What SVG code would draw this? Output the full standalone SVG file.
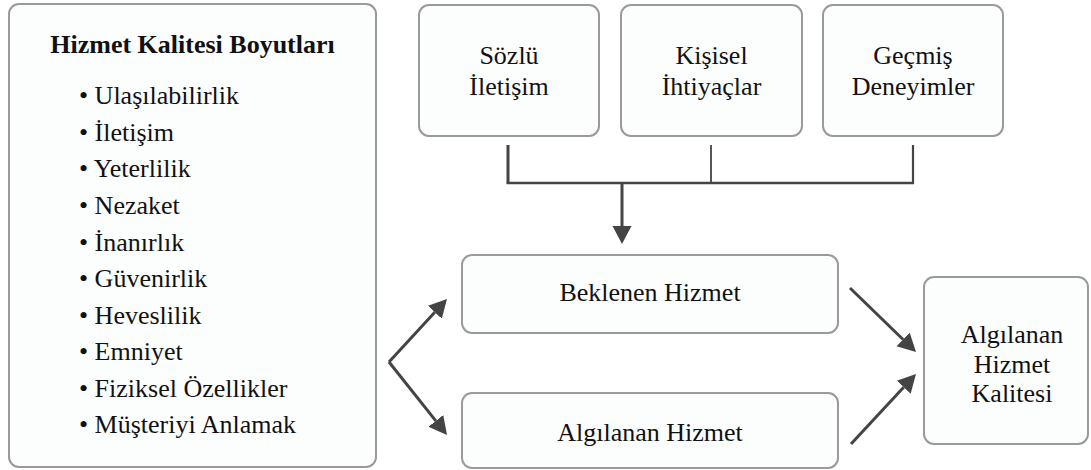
<svg xmlns="http://www.w3.org/2000/svg" width="1091" height="470" viewBox="0 0 1091 470">
  <style>
    .box { fill: #fcfdfd; stroke: #9a9a9a; stroke-width: 2; }
    .c { text-anchor: middle; }
    .wire { fill: none; stroke: #444; stroke-linecap: butt; }
    .arrow { fill: none; stroke: #444; stroke-width: 3; marker-end: url(#head); }
  </style>
  <defs>
    <marker id="head" markerUnits="userSpaceOnUse" viewBox="0 -10 18 20" refX="0" refY="0" markerWidth="18" markerHeight="20" orient="auto">
      <path d="M0,-9.5 L18,0 L0,9.5 z" fill="#444"/>
    </marker>
  </defs>
  <rect width="1091" height="470" fill="#ffffff"/>

  <g font-family="Liberation Serif, Times New Roman, serif" font-size="26" fill="#111">
    <!-- dimensions list -->
    <g id="dimensions">
      <rect class="box" x="9" y="4" width="367" height="463" rx="10"/>
      <text class="c" font-weight="bold" x="192.5" y="52.7">Hizmet Kalitesi Boyutları</text>
      <text x="79" y="104.3">• Ulaşılabilirlik</text>
      <text x="79" y="140.9">• İletişim</text>
      <text x="79" y="177.4">• Yeterlilik</text>
      <text x="79" y="214">• Nezaket</text>
      <text x="79" y="250.5">• İnanırlık</text>
      <text x="79" y="287.1">• Güvenirlik</text>
      <text x="79" y="323.7">• Heveslilik</text>
      <text x="79" y="360.2">• Emniyet</text>
      <text x="79" y="396.8">• Fiziksel Özellikler</text>
      <text x="79" y="433.3">• Müşteriyi Anlamak</text>
    </g>

    <!-- expectation sources -->
    <g id="sozlu-iletisim">
      <rect class="box" x="419" y="5" width="180" height="131" rx="10"/>
      <text class="c" x="509" y="64">Sözlü</text>
      <text class="c" x="509" y="95">İletişim</text>
    </g>
    <g id="kisisel-ihtiyaclar">
      <rect class="box" x="621" y="5" width="181" height="131" rx="10"/>
      <text class="c" x="711.5" y="64">Kişisel</text>
      <text class="c" x="711.5" y="95">İhtiyaçlar</text>
    </g>
    <g id="gecmis-deneyimler">
      <rect class="box" x="823" y="5" width="180" height="131" rx="10"/>
      <text class="c" x="913" y="64">Geçmiş</text>
      <text class="c" x="913" y="95">Deneyimler</text>
    </g>

    <!-- service boxes -->
    <g id="beklenen-hizmet">
      <rect class="box" x="462" y="255" width="376" height="78" rx="10"/>
      <text class="c" x="650" y="301">Beklenen Hizmet</text>
    </g>
    <g id="algilanan-hizmet">
      <rect class="box" x="462" y="393" width="376" height="75" rx="10"/>
      <text class="c" x="650" y="440.5">Algılanan Hizmet</text>
    </g>
    <g id="algilanan-hizmet-kalitesi">
      <rect class="box" x="924" y="277" width="164" height="167" rx="10"/>
      <text class="c" x="1012" y="343">Algılanan</text>
      <text class="c" x="1012" y="372.5">Hizmet</text>
      <text class="c" x="1012" y="402">Kalitesi</text>
    </g>
  </g>

  <!-- connectors -->
  <g id="connectors">
    <path class="wire" d="M508,145 V183" stroke-width="3"/>
    <path class="wire" d="M711,145 V183" stroke-width="1.8"/>
    <path class="wire" d="M913,145 V183" stroke-width="2.2"/>
    <path class="wire" d="M506.5,183 H914.1" stroke-width="2.4"/>
    <path class="arrow" d="M622,183 V226"/>
    <path class="arrow" d="M389,362 L434.8,312.2"/>
    <path class="arrow" d="M389,362 L435.8,420.9"/>
    <path class="arrow" d="M850,288 L903.1,339.5"/>
    <path class="arrow" d="M851,444 L903.7,387.2"/>
  </g>
</svg>
